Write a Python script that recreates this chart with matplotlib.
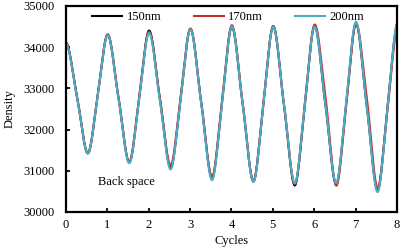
import numpy as np
import matplotlib.pyplot as plt

# peaks near whole cycles, troughs near n+0.54, crossings in between
cycles = [n + o for n in range(8) for o in (0.0, 0.27, 0.54, 0.77)] + [8.0]

density_150 = [34120, 32780, 31430, 32870,
               34300, 32760, 31210, 32800,
               34400, 32740, 31080, 32760,
               34440, 32640, 30830, 32660,
               34490, 32620, 30750, 32630,
               34500, 32580, 30650, 32580,
               34510, 32600, 30680, 32620,
               34570, 32560, 30540, 32550,
               34550]

density_170 = [34120, 32780, 31440, 32880,
               34310, 32770, 31220, 32800,
               34370, 32760, 31140, 32800,
               34450, 32650, 30860, 32700,
               34530, 32650, 30760, 32640,
               34510, 32600, 30690, 32620,
               34540, 32800, 30640, 32560,
               34560, 32770, 30580, 32480,
               34450]

density_200 = [34100, 32770, 31430, 32860,
               34290, 32740, 31190, 32770,
               34340, 32690, 31040, 32740,
               34430, 32610, 30780, 32640,
               34500, 32620, 30740, 32620,
               34490, 32600, 30700, 32600,
               34490, 32600, 30710, 32660,
               34610, 32550, 30490, 32540,
               34590]

series = [("150nm", density_150, "black"),
          ("170nm", density_170, "#c8302c"),
          ("200nm", density_200, "#4bacc6")]


def smooth_line(x, y, per_segment=30):
    # cubic hermite through the points, like a spreadsheet "smoothed line"
    x = np.asarray(x, float)
    y = np.asarray(y, float)
    m = np.gradient(y, x)
    # the series start and end close to a peak
    m[0] = -0.15 * (y[0] - y[1]) / (x[1] - x[0])
    m[-1] = 0.3 * (y[-1] - y[-2]) / (x[-1] - x[-2])
    xs, ys = [], []
    for i in range(len(x) - 1):
        h = x[i + 1] - x[i]
        t = np.linspace(0, 1, per_segment, endpoint=False)
        h00 = 2 * t**3 - 3 * t**2 + 1
        h10 = t**3 - 2 * t**2 + t
        h01 = -2 * t**3 + 3 * t**2
        h11 = t**3 - t**2
        xs.append(x[i] + t * h)
        ys.append(h00 * y[i] + h10 * h * m[i] + h01 * y[i + 1] + h11 * h * m[i + 1])
    xs.append([x[-1]])
    ys.append([y[-1]])
    return np.concatenate(xs), np.concatenate(ys)


plt.rcParams["font.family"] = ["Liberation Serif", "DejaVu Serif"]
plt.rcParams["font.size"] = 9

fig = plt.figure(figsize=(4.01, 2.5), dpi=100)
ax = fig.add_axes([0.1646, 0.152, 0.8254, 0.824])

for label, values, color in series:
    sx, sy = smooth_line(cycles, values)
    ax.plot(sx, sy, color=color, lw=1.5, label=label)

ax.set_xlim(0, 8)
ax.set_ylim(30000, 35000)
ax.set_xticks(range(0, 9))
ax.set_yticks(range(30000, 35001, 1000))
ax.tick_params(direction="in", length=3, width=1.3)
ax.tick_params(axis="y", pad=8)
ax.tick_params(axis="x", pad=5)
for sp in ax.spines.values():
    sp.set_linewidth(1.6)

ax.set_xlabel("Cycles")
ax.set_ylabel("Density")
ax.xaxis.set_label_coords(0.5, -0.11)
ax.yaxis.set_label_coords(-0.152, 0.5)

ax.text(0.77, 30730, "Back space", va="center", ha="left")

ax.legend(loc="upper center", bbox_to_anchor=(0.49, 1.03), ncol=3,
          frameon=False, handlelength=2.4, handletextpad=0.35,
          columnspacing=2.6, fontsize=9)

fig.savefig("out.png", dpi=100)
